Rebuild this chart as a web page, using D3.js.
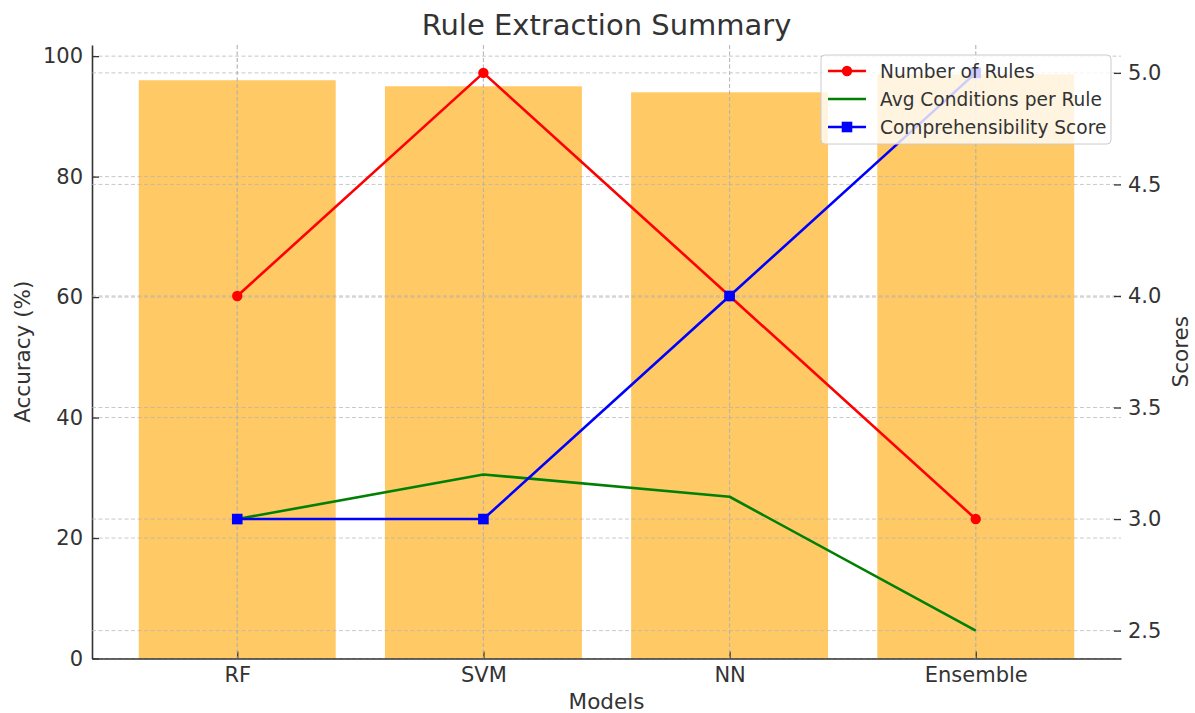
<!DOCTYPE html>
<html>
<head>
<meta charset="utf-8">
<script src="https://cdn.jsdelivr.net/npm/d3@7"></script>
<style>
  body { margin: 0; background: #fff; }
  svg { display: block; font-family: "DejaVu Sans", sans-serif; }
</style>
</head>
<body>
<div id="chart"></div>
<script>
const models = ["RF", "SVM", "NN", "Ensemble"];
const accuracy = [96, 95, 94, 97];
const numRules = [4, 5, 4, 3];
const avgConditions = [3.0, 3.2, 3.1, 2.5];
const comprehensibility = [3, 3, 4, 5];
const accTicks = [0, 20, 40, 60, 80, 100];
const scoreTicks = [2.5, 3.0, 3.5, 4.0, 4.5, 5.0];

const width = 1195;
const height = 713;
const margin = { top: 45, right: 74, bottom: 54.5, left: 92 };
const textColor = "#333";

const svg = d3.select("#chart")
  .append("svg")
  .attr("width", width)
  .attr("height", height);

// bars of width 0.8 with 5% margins on each side, like matplotlib
const xLin = d3.scaleLinear()
  .domain([-0.59, models.length - 1 + 0.59])
  .range([margin.left, width - margin.right]);
const x = (i) => xLin(i);
const barW = xLin(0.8) - xLin(0);

const yAcc = d3.scaleLinear()
  .domain([0, 101.85])
  .range([height - margin.bottom, margin.top]);
const yScore = d3.scaleLinear()
  .domain([2.375, 5.125])
  .range([height - margin.bottom, margin.top]);

const x0 = margin.left, x1 = width - margin.right;
const yb = height - margin.bottom, yt = margin.top;

// bars
svg.append("g")
  .selectAll("rect")
  .data(accuracy)
  .join("rect")
  .attr("x", (d, i) => x(i) - barW / 2)
  .attr("width", barW)
  .attr("y", (d) => yAcc(d))
  .attr("height", (d) => yb - yAcc(d))
  .attr("fill", "orange")
  .attr("fill-opacity", 0.6);

function grid(values, yScale) {
  const g = svg.append("g")
    .attr("stroke", "#b0b0b0")
    .attr("stroke-opacity", 0.7)
    .attr("stroke-width", 1)
    .attr("stroke-dasharray", "4,2.5");
  g.selectAll("line.h")
    .data(values)
    .join("line")
    .attr("x1", x0).attr("x2", x1)
    .attr("y1", (d) => yScale(d)).attr("y2", (d) => yScale(d));
  g.selectAll("line.v")
    .data(models)
    .join("line")
    .attr("x1", (d, i) => x(i)).attr("x2", (d, i) => x(i))
    .attr("y1", yt).attr("y2", yb);
}

grid(accTicks, yAcc);

// left axis
const leftAxis = svg.append("g")
  .attr("transform", `translate(${x0},0)`)
  .call(d3.axisLeft(yAcc).tickValues(accTicks).tickSizeInner(-7).tickSizeOuter(0).tickPadding(9));

// bottom axis
const bottomAxis = svg.append("g")
  .attr("transform", `translate(0,${yb})`)
  .call(d3.axisBottom(xLin).tickValues(d3.range(models.length))
    .tickFormat((i) => models[i]).tickSizeInner(-7).tickSizeOuter(0).tickPadding(9));

grid(scoreTicks, yScore);

// right axis (no spine)
const rightAxis = svg.append("g")
  .attr("transform", `translate(${x1},0)`)
  .call(d3.axisRight(yScore).tickValues(scoreTicks).tickFormat(d3.format(".1f"))
    .tickSizeInner(-7).tickSizeOuter(0).tickPadding(7));
rightAxis.select(".domain").remove();

[leftAxis, bottomAxis, rightAxis].forEach((g) => {
  g.selectAll("path.domain").attr("stroke", textColor).attr("stroke-width", 1.6);
  g.selectAll(".tick line").attr("stroke", textColor).attr("stroke-width", 1.3);
  g.selectAll(".tick text").attr("fill", textColor).attr("font-size", 21)
    .attr("font-family", "DejaVu Sans");
});

// lines
const series = [
  { name: "Number of Rules", values: numRules, color: "red", marker: "circle" },
  { name: "Avg Conditions per Rule", values: avgConditions, color: "green", marker: null },
  { name: "Comprehensibility Score", values: comprehensibility, color: "blue", marker: "square" }
];

const line = d3.line()
  .x((d, i) => x(i))
  .y((d) => yScore(d));

series.forEach((s) => {
  svg.append("path")
    .datum(s.values)
    .attr("fill", "none")
    .attr("stroke", s.color)
    .attr("stroke-width", 2.6)
    .attr("stroke-linejoin", "round")
    .attr("d", line);
  if (s.marker === "circle") {
    svg.append("g").selectAll("circle")
      .data(s.values)
      .join("circle")
      .attr("cx", (d, i) => x(i))
      .attr("cy", (d) => yScore(d))
      .attr("r", 5.2)
      .attr("fill", s.color);
  } else if (s.marker === "square") {
    svg.append("g").selectAll("rect")
      .data(s.values)
      .join("rect")
      .attr("x", (d, i) => x(i) - 5.3)
      .attr("y", (d) => yScore(d) - 5.3)
      .attr("width", 10.6)
      .attr("height", 10.6)
      .attr("fill", s.color);
  }
});

// legend
const legend = svg.append("g").attr("transform", "translate(821,55)");
legend.append("rect")
  .attr("width", 290)
  .attr("height", 89)
  .attr("rx", 4)
  .attr("fill", "white")
  .attr("fill-opacity", 0.8)
  .attr("stroke", "#cccccc")
  .attr("stroke-width", 1);
series.forEach((s, i) => {
  const row = legend.append("g").attr("transform", `translate(0,${16 + i * 28})`);
  row.append("line")
    .attr("x1", 7).attr("x2", 45)
    .attr("stroke", s.color).attr("stroke-width", 2.6);
  if (s.marker === "circle") {
    row.append("circle").attr("cx", 26).attr("r", 5.2).attr("fill", s.color);
  } else if (s.marker === "square") {
    row.append("rect").attr("x", 20.7).attr("y", -5.3).attr("width", 10.6).attr("height", 10.6).attr("fill", s.color);
  }
  row.append("text")
    .attr("x", 59)
    .attr("dy", "0.35em")
    .attr("font-size", 18.6)
    .attr("fill", textColor)
    .text(s.name);
});

// title and labels
svg.append("text")
  .attr("x", (x0 + x1) / 2)
  .attr("y", 35)
  .attr("text-anchor", "middle")
  .attr("font-size", 29)
  .attr("fill", textColor)
  .text("Rule Extraction Summary");

svg.append("text")
  .attr("x", (x0 + x1) / 2)
  .attr("y", 709)
  .attr("text-anchor", "middle")
  .attr("font-size", 21.5)
  .attr("fill", textColor)
  .text("Models");

svg.append("text")
  .attr("transform", `translate(30,${(yt + yb) / 2}) rotate(-90)`)
  .attr("text-anchor", "middle")
  .attr("font-size", 21.5)
  .attr("fill", textColor)
  .text("Accuracy (%)");

svg.append("text")
  .attr("transform", `translate(1188,${(yt + yb) / 2}) rotate(-90)`)
  .attr("text-anchor", "middle")
  .attr("font-size", 21.5)
  .attr("fill", textColor)
  .text("Scores");
</script>
</body>
</html>
